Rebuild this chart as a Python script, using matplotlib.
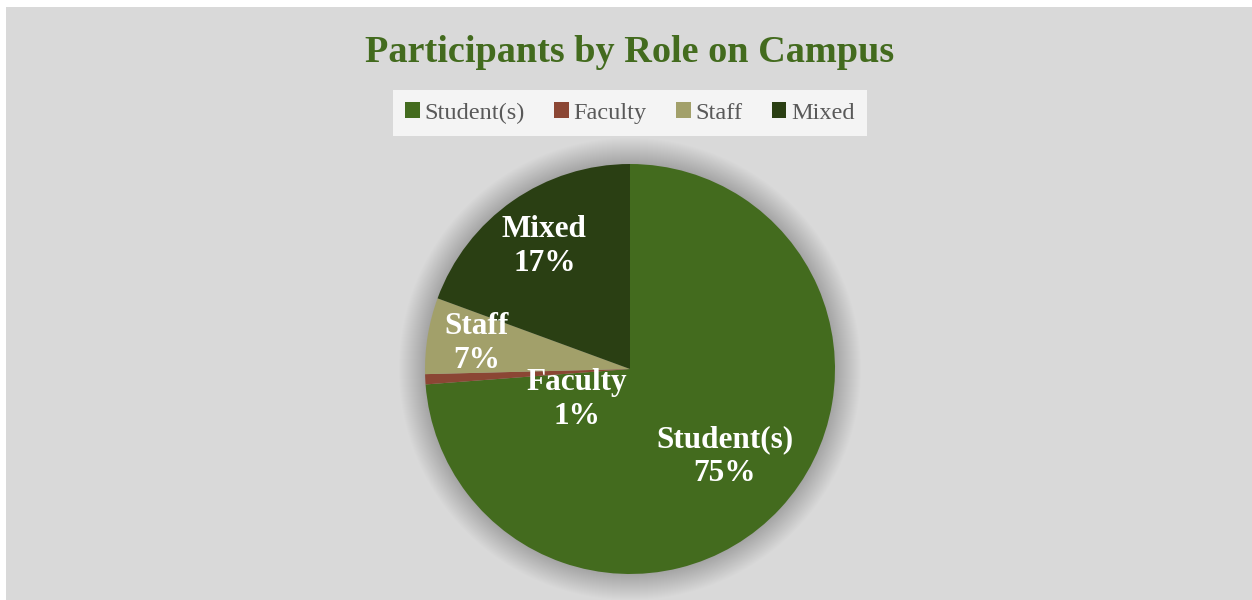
import numpy as np
import matplotlib
matplotlib.use("Agg")
import matplotlib.pyplot as plt
from matplotlib.patches import Patch, Rectangle, Circle

# data
roles = ["Student(s)", "Faculty", "Staff", "Mixed"]
shares = [73.8, 0.8, 6.0, 19.4]          # wedge sizes as drawn
pct_labels = ["75%", "1%", "7%", "17%"]  # percentages as printed on the chart
colors = ["#436b1e", "#8b4634", "#a2a06a", "#2a3f13"]

W, H = 1252, 600
fig = plt.figure(figsize=(W / 100, H / 100), dpi=100, facecolor="white")
ax = fig.add_axes([0, 0, 1, 1])

# grey chart area (thin white strip on the left and top)
ax.add_patch(Rectangle((6, 0), W - 6, H - 7, facecolor="#d9d9d9", edgecolor="none", zorder=0))

cx, cy, R = 630, H - 369, 205

# soft shadow round the pie
for k in range(26, 0, -1):
    ax.add_patch(Circle((cx, cy), R + k, facecolor="#000000", alpha=0.007, edgecolor="none", zorder=1))

wedges, _ = ax.pie(shares, colors=colors, startangle=90, counterclock=False,
                   center=(cx, cy), radius=R, frame=True,
                   wedgeprops=dict(linewidth=0, zorder=2))
ax.set_xlim(0, W)
ax.set_ylim(0, H)
ax.axis("off")

# label placement: radius fraction and optional angle override per wedge
label_r = [0.63, 0.30, 0.76, 0.73]
label_ang = [None, 210, None, None]
for w, name, pct, rf, a in zip(wedges, roles, pct_labels, label_r, label_ang):
    if a is None:
        a = (w.theta1 + w.theta2) / 2
    x = cx + rf * R * np.cos(np.radians(a))
    y = cy + rf * R * np.sin(np.radians(a))
    ax.text(x, y, name + "\n" + pct, ha="center", va="center", color="white",
            fontsize=22.5, fontweight="bold", family="Liberation Serif",
            linespacing=1.22, zorder=5)

fig.text(630 / W, 1 - 52 / H, "Participants by Role on Campus", ha="center", va="center",
         fontsize=27.5, fontweight="bold", family="Liberation Serif", color="#436b1e")

handles = [Patch(facecolor=c, edgecolor="none") for c in colors]
leg = fig.legend(handles, roles, loc="center", bbox_to_anchor=(630 / W, 1 - 113 / H),
                 ncol=4, frameon=True, fancybox=False, handlelength=0.6, handleheight=0.6,
                 handletextpad=0.2, columnspacing=1.2, borderpad=0.5,
                 prop={"family": "Liberation Serif", "size": 17.5})
leg.get_frame().set_facecolor("#f4f4f4")
leg.get_frame().set_edgecolor("none")
leg.get_frame().set_alpha(1)
for t in leg.get_texts():
    t.set_color("#595959")

fig.savefig("out.png", dpi=100, facecolor="white")
